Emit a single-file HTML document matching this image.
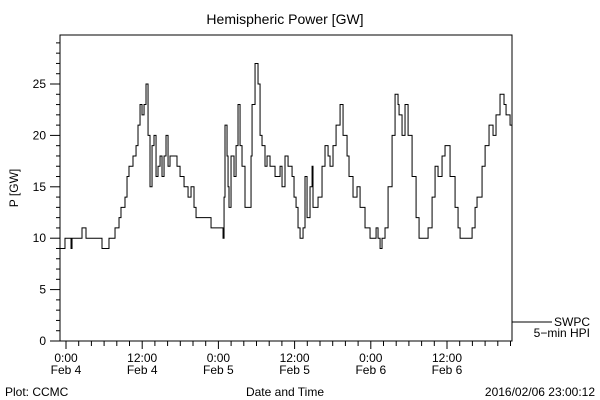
<!DOCTYPE html>
<html><head><meta charset="utf-8"><style>
body{margin:0;background:#fff;}
svg{display:block;font-family:"Liberation Sans",sans-serif;}
</style></head><body>
<svg id="chart" width="600" height="400" viewBox="0 0 600 400">
<rect width="600" height="400" fill="#fff"/>
<text x="285" y="24" font-size="14" text-anchor="middle">Hemispheric Power [GW]</text>
<text transform="translate(18,188) rotate(-90)" font-size="12" text-anchor="middle">P [GW]</text>
<text x="285" y="396" font-size="12" text-anchor="middle">Date and Time</text>
<text x="5" y="396" font-size="12">Plot: CCMC</text>
<text x="595" y="396" font-size="12" text-anchor="end">2016/02/06 23:00:12</text>
<line x1="512" y1="322" x2="552" y2="322" stroke="#000"/>
<text x="590" y="326" font-size="12" text-anchor="end">SWPC</text>
<text x="590" y="337" font-size="12" text-anchor="end">5−min HPI</text>
<g id="axes"></g>
<g id="series"></g>
</svg>
<script>
const times=[-0.95,-0.16,0.79,0.95,2.52,3.15,5.67,6.77,7.72,8.35,8.66,9.29,9.61,9.92,10.55,11.03,11.34,11.66,11.97,12.29,12.6,12.92,13.23,13.55,13.86,14.18,14.49,14.81,15.12,15.44,15.75,16.07,16.38,17.17,17.48,17.96,18.59,19.22,19.69,20.16,20.48,22.68,22.84,24.57,24.73,24.89,25.04,25.36,25.52,25.67,25.99,26.46,26.78,27.09,27.41,27.72,28.19,28.67,29.14,29.3,29.77,30.24,30.56,30.87,31.34,31.66,32.13,32.92,33.71,34.02,34.49,34.97,35.6,35.91,36.23,36.54,36.86,37.33,37.64,37.96,38.43,38.75,38.9,39.38,39.69,40.32,40.79,41.27,41.58,42.05,42.53,43.16,43.63,44.26,44.57,45.2,45.83,46.31,47.09,47.88,48.51,48.83,49.14,49.46,49.77,50.24,50.72,51.35,51.82,52.29,52.45,52.92,53.39,53.87,54.5,55.13,55.6,56.7,57.02,57.65,58.12,58.59,59.22,59.69,60.48,61.27,61.74,62.06,63.63,63.95,64.42,64.73,65.52,66.0,66.62,67.25,67.72,68.35,68.98,69.3,69.93,70.24];
const power=[9,10,9,10,11,10,9,10,11,12,13,14,16,17,18,19,21,23,22,23,25,20,15,19,20,16,17,18,16,18,20,17,18,18,17,16,15,14,15,13,12,12,11,11,10,14,21,18,15,13,18,16,19,23,19,17,13,13,18,23,27,25,20,19,17,18,17,16,17,15,18,17,16,14,13,11,10,11,16,12,15,17,13,13,14,17,19,18,17,19,21,23,20,18,16,14,15,13,11,10,10,11,10,9,10,11,15,20,24,23,22,20,23,20,16,12,10,10,11,14,17,16,18,19,16,13,11,10,10,11,13,14,17,19,21,20,22,24,23,22,21,22];
const yTicks=[0,5,10,15,20,25];
const xTickHours=[0,12,24,36,48,60];
const xTickLabels=[["0:00","Feb 4"],["12:00","Feb 4"],["0:00","Feb 5"],["12:00","Feb 5"],["0:00","Feb 6"],["12:00","Feb 6"]];
const L=60,R=512,T=35,B=341;
const xs=h=>66+h*(76.2/12);
const ys=v=>B-v*10.28;
const NS="http://www.w3.org/2000/svg";
const ax=document.getElementById('axes');
function mk(tag,attrs,parent){const e=document.createElementNS(NS,tag);for(const k in attrs)e.setAttribute(k,attrs[k]);parent.appendChild(e);return e;}
const frame=mk('rect',{x:L,y:T,width:R-L,height:B-T,fill:'none',stroke:'#000'},ax);


for(let v=0;v<=29;v++){
  const major=v%5===0;
  const t=mk('line',{x1:L-(major?10:4),x2:L,y1:ys(v),y2:ys(v),stroke:'#000'},ax);
  
  
}
yTicks.forEach(v=>{
  const t=mk('text',{x:L-14,y:ys(v)+4,'font-size':12,'text-anchor':'end'},ax);
  t.textContent=v;
  
  
});
for(let h=0;h<=70;h+=2){
  const major=h%12===0;
  const t=mk('line',{x1:xs(h),x2:xs(h),y1:B,y2:B+(major?8:5),stroke:'#000'},ax);
  
  
}
xTickHours.forEach((h,i)=>{
  xTickLabels[i].forEach((s,j)=>{
    const t=mk('text',{x:xs(h),y:B+21+j*12,'font-size':12,'text-anchor':'middle'},ax);
    t.textContent=s;
    
    
  });
});
let d='';
for(let i=0;i<times.length;i++){
  const x=Math.max(L,Math.min(R,xs(times[i]))),y=ys(power[i]);
  if(i===0)d+='M'+x+' '+y;
  else d+=' H'+x+' V'+y;
}
d+=' H'+R;
const p=mk('path',{d:d,fill:'none',stroke:'#000','stroke-width':1},document.getElementById('series'));


</script>
</body></html>
